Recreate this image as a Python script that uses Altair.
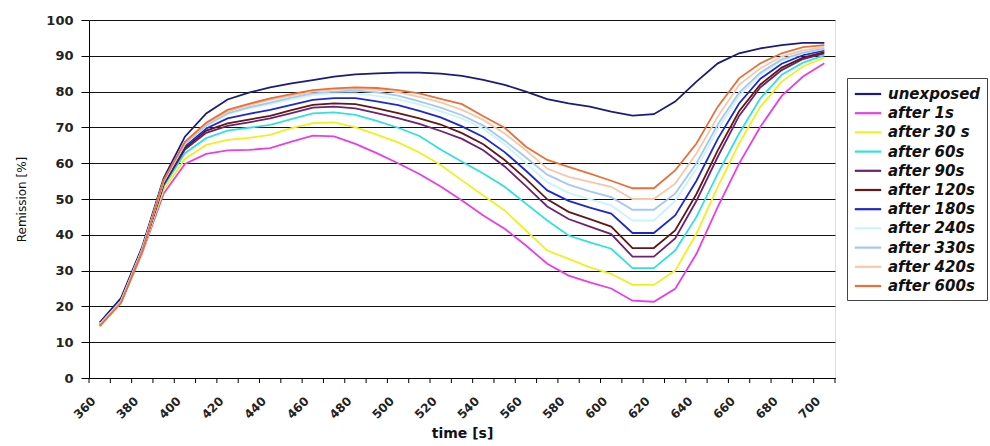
import altair as alt
import pandas as pd

times = list(range(360, 701, 10))

series_names = ["unexposed", "after 1s", "after 30 s", "after 60s", "after 90s", "after 120s",
                "after 180s", "after 240s", "after 330s", "after 420s", "after 600s"]
series_colors = ["#1c1c78", "#e83ee8", "#f0f01e", "#33e0e0", "#702070", "#601818",
                 "#1c28d0", "#c8f4fa", "#a6c8f0", "#f6c8a8", "#e8703a"]

unexposed = [15.5, 22.3, 36.7, 55.8, 67.4, 73.9, 77.8, 79.7, 81.2, 82.3, 83.2, 84.2, 84.8, 85.1, 85.3, 85.3, 85.0,
             84.4, 83.3, 81.9, 80.0, 77.9, 76.7, 75.8, 74.4, 73.3, 73.7, 77.2, 82.8, 87.9, 90.7, 92.1, 93.0, 93.6, 93.6]
after_1s = [14.5, 21.0, 35.0, 51.5, 59.8, 62.6, 63.6, 63.7, 64.2, 66.0, 67.7, 67.5, 65.4, 62.8, 60.0, 57.0, 53.5,
            49.6, 45.4, 41.7, 37.0, 31.9, 28.6, 26.7, 25.0, 21.6, 21.3, 24.9, 34.7, 47.8, 59.9, 70.2, 78.8, 84.2, 87.9]
after_30s = [14.5, 21.0, 35.3, 52.5, 61.2, 65.1, 66.5, 67.1, 67.9, 69.8, 71.2, 71.4, 70.0, 68.0, 65.8, 63.0, 59.5,
             55.2, 51.0, 46.8, 41.2, 35.6, 33.3, 30.9, 29.1, 26.0, 26.0, 30.0, 40.3, 53.4, 65.5, 75.8, 82.8, 87.0, 89.5]
after_60s = [14.8, 21.3, 35.5, 53.5, 62.8, 67.0, 69.1, 69.9, 70.7, 72.3, 73.9, 74.2, 73.5, 71.8, 69.9, 67.6, 63.8,
             60.4, 57.1, 53.4, 48.7, 44.0, 39.8, 37.9, 36.1, 30.7, 30.7, 35.6, 45.0, 57.1, 68.3, 78.1, 84.7, 88.1, 90.1]
after_90s = [14.8, 21.3, 35.7, 54.0, 63.8, 68.5, 70.4, 71.4, 72.5, 74.0, 75.5, 75.8, 75.3, 74.0, 72.6, 71.0, 69.0,
             66.8, 63.6, 59.1, 53.6, 47.9, 44.4, 42.3, 40.2, 33.9, 33.9, 39.0, 49.5, 61.8, 73.2, 81.2, 86.0, 89.1, 90.7]
after_120s = [14.8, 21.3, 35.8, 54.2, 64.2, 69.1, 71.1, 72.2, 73.2, 74.8, 76.3, 76.7, 76.5, 75.3, 74.0, 72.5, 70.8,
              68.4, 65.3, 60.9, 55.6, 49.9, 46.4, 44.4, 42.3, 36.3, 36.3, 41.2, 51.4, 63.6, 74.5, 82.0, 86.7, 89.5, 91.0]
after_180s = [15.0, 21.5, 36.0, 54.5, 64.8, 69.7, 72.5, 73.8, 74.9, 76.3, 77.7, 78.2, 78.2, 77.3, 76.2, 74.6, 72.8,
              70.3, 67.3, 63.1, 57.9, 52.4, 49.5, 47.6, 45.9, 40.5, 40.5, 45.4, 55.1, 66.8, 76.7, 83.6, 87.8, 90.2, 91.5]
after_240s = [15.0, 21.5, 36.0, 54.8, 65.3, 70.3, 73.7, 75.3, 76.5, 77.8, 79.0, 79.5, 79.5, 78.8, 77.8, 76.4, 74.5,
              72.5, 69.6, 65.3, 60.0, 54.7, 51.7, 49.9, 48.2, 44.0, 44.0, 49.5, 58.5, 69.5, 78.8, 84.8, 88.6, 90.7, 91.9]
after_330s = [15.0, 21.5, 36.0, 55.0, 65.5, 70.6, 73.9, 75.6, 76.9, 78.3, 79.5, 80.0, 80.3, 79.8, 78.9, 77.3, 75.5,
              73.4, 70.5, 66.3, 61.6, 56.8, 54.0, 52.1, 50.5, 47.0, 47.0, 51.5, 60.0, 70.8, 79.7, 85.3, 89.0, 90.9, 92.0]
after_420s = [14.8, 21.3, 35.8, 55.0, 65.8, 71.0, 74.4, 76.2, 77.7, 78.9, 80.0, 80.6, 80.8, 80.5, 79.8, 78.5, 77.0,
              74.9, 72.1, 68.3, 63.6, 58.5, 56.2, 54.8, 53.4, 50.0, 50.0, 54.3, 62.7, 73.0, 81.9, 86.5, 89.8, 91.5, 92.4]
after_600s = [14.5, 21.0, 35.5, 55.2, 66.0, 71.3, 74.9, 76.6, 78.1, 79.3, 80.4, 80.9, 81.2, 81.0, 80.4, 79.5, 78.0,
              76.5, 73.1, 69.9, 64.6, 60.9, 59.0, 57.1, 55.1, 53.0, 53.0, 58.0, 65.5, 75.8, 83.7, 87.9, 90.7, 92.4, 93.0]

all_series = [unexposed, after_1s, after_30s, after_60s, after_90s, after_120s,
              after_180s, after_240s, after_330s, after_420s, after_600s]

x_labels = list(range(360, 701, 20))
y_ticks = list(range(0, 101, 10))

rows = []
for name, vals in zip(series_names, all_series):
    for t, v in zip(times, vals):
        rows.append({"time": t, "value": v, "series": name, "order": series_names.index(name)})
df = pd.DataFrame(rows)

# category boundaries (tick marks sit between categories)
bounds = pd.DataFrame({"time": [t - 5 for t in times] + [times[-1] + 5]})

FONT = "DejaVu Sans"
W, H = 746, 358

x_scale = alt.Scale(domain=[times[0] - 5, times[-1] + 5], nice=False, zero=False)
x_axis = alt.Axis(values=x_labels, title="time [s]", ticks=False, grid=False,
                  labelAngle=315, labelAlign="right", labelBaseline="top",
                  labelOffset=-10, labelPadding=17, labelFont=FONT, labelFontSize=12,
                  labelFontWeight="bold", labelColor="#222", labelOverlap=False, labelBound=False,
                  labelFlush=False,
                  domainColor="#000", domainWidth=1,
                  titleFont=FONT, titleFontSize=14, titleFontWeight="bold", titleColor="#111",
                  titlePadding=6)

lines = alt.Chart(df).mark_line(strokeWidth=1.8).encode(
    x=alt.X("time:Q", scale=x_scale, axis=x_axis),
    y=alt.Y("value:Q", scale=alt.Scale(domain=[0, 100], nice=False),
            axis=alt.Axis(values=y_ticks, title="Remission [%]", grid=True, gridColor="#111",
                          gridWidth=1, tickSize=8, tickColor="#000", domainColor="#000",
                          labelFont=FONT, labelFontSize=13, labelFontWeight="bold",
                          labelColor="#222", labelPadding=8,
                          titleFont=FONT, titleFontSize=12, titleFontWeight="normal",
                          titleColor="#111", titlePadding=17)),
    color=alt.Color("series:N", sort=series_names,
                    scale=alt.Scale(domain=series_names, range=series_colors),
                    legend=alt.Legend(title=None, orient="none", legendX=758, legendY=58,
                                      strokeColor="#444", fillColor="#fff", padding=6,
                                      symbolType="M-1.55,0H1.55", symbolSize=289,
                                      symbolStrokeWidth=2.2, symbolOffset=5, labelOffset=10,
                                      rowPadding=1.2, labelFont=FONT, labelFontSize=15,
                                      labelFontStyle="italic", labelFontWeight="bold",
                                      labelColor="#111", labelLimit=200)),
    order=alt.Order("order:Q"),
)

ticks = alt.Chart(bounds).mark_rule(color="#000", strokeWidth=1).encode(
    x=alt.X("time:Q", scale=x_scale, axis=x_axis),
    y=alt.value(H),
    y2=alt.value(H + 5),
)

chart = alt.layer(lines, ticks).properties(
    width=W, height=H,
    autosize=alt.AutoSizeParams(type="none"),
    padding={"left": 89, "top": 20, "right": 155, "bottom": 68},
).configure_view(stroke="#888", strokeWidth=1).configure(background="white")

chart.save("out.html", embed_options={"renderer": "svg", "actions": False})
